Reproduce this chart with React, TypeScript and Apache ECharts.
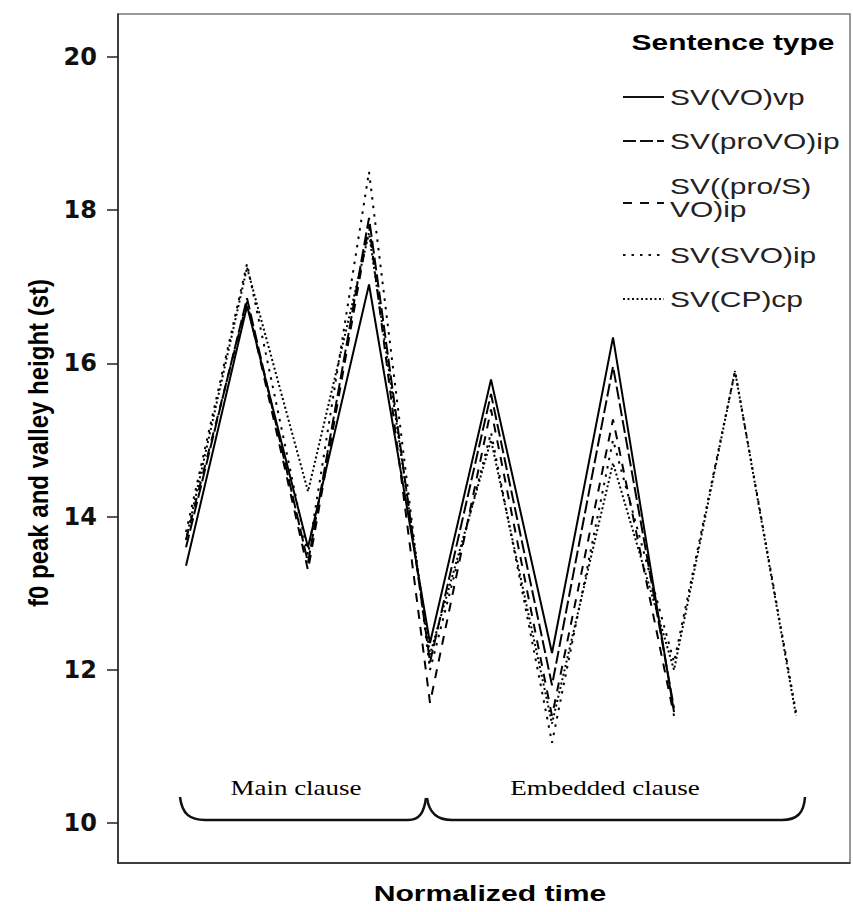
import React, { useEffect, useRef } from "react";
import * as echarts from "echarts";

const timePoints = [0, 1, 2, 3, 4, 5, 6, 7, 8, 9, 10];
const seriesNames = ["SV(VO)vp", "SV(proVO)ip", "SV((pro/S)\nVO)ip", "SV(SVO)ip", "SV(CP)cp"];
const svVOvp = [13.36, 16.75, 13.6, 17.03, 12.35, 15.79, 12.22, 16.34, 11.45];
const svProVOip = [13.6, 16.85, 13.4, 17.9, 12.1, 15.6, 11.8, 15.96, 11.5];
const svProSVOip = [13.7, 16.8, 13.3, 17.8, 11.57, 15.4, 11.4, 15.27, 11.4];
const svSVOip = [13.8, 17.3, 13.5, 18.5, 12.0, 15.1, 11.05, 15.0, 12.1, 15.9, 11.45];
const svCPcp = [13.7, 17.25, 14.33, 17.7, 12.2, 15.0, 11.3, 14.7, 12.0, 15.9, 11.4];
const yTicks = [10, 12, 14, 16, 18, 20];
const clauseLabels = ["Main clause", "Embedded clause"];

const dashes: any[] = ["solid", [13, 4], [9, 8], [2.5, 6], [2, 2.5]];
const SX = 1.36;

export default function App() {
  const ref = useRef<HTMLDivElement>(null);
  useEffect(() => {
    if (!ref.current) return;
    const chart = echarts.init(ref.current, null, { renderer: "svg" });
    const all = [svVOvp, svProVOip, svProSVOip, svSVOip, svCPcp];
    const series = all.map((vals, i) => ({
      name: seriesNames[i],
      type: "line",
      symbol: "none",
      data: vals.map((v, j) => [timePoints[j], v]),
      lineStyle: { color: "#000", width: 2, type: dashes[i] },
      z: 5 - i,
    }));

    const legendRows = [
      { y: 97, ty: 97 },
      { y: 141, ty: 141 },
      { y: 203, ty: 198 },
      { y: 255, ty: 255 },
      { y: 299, ty: 299 },
    ];
    const legendGraphics: any[] = [
      {
        type: "text",
        x: 733,
        y: 42,
        scaleX: SX,
        style: {
          text: "Sentence type",
          font: "bold 22px Arial, 'Liberation Sans'",
          fill: "#000",
          textAlign: "center",
          textVerticalAlign: "middle",
        },
      },
    ];
    legendRows.forEach((r, i) => {
      legendGraphics.push({
        type: "line",
        shape: { x1: 623, y1: r.y, x2: 664, y2: r.y },
        style: { stroke: "#111", lineWidth: 2, lineDash: dashes[i] === "solid" ? null : dashes[i] },
      });
      legendGraphics.push({
        type: "text",
        x: 670,
        y: r.ty,
        scaleX: SX,
        style: {
          text: seriesNames[i],
          font: "22px Arial, 'Liberation Sans'",
          fill: "#222",
          textVerticalAlign: "middle",
          lineHeight: 23,
        },
      });
    });

    const braceStyle = { stroke: "#111", lineWidth: 2.5, fill: null };
    const serifFont = "20px 'Liberation Serif', serif";
    const braces: any[] = [
      { type: "bezierCurve", shape: { x1: 180, y1: 797, cpx1: 182, cpy1: 814, cpx2: 190, cpy2: 820, x2: 205, y2: 820 }, style: braceStyle },
      { type: "line", shape: { x1: 205, y1: 820, x2: 408, y2: 820 }, style: braceStyle },
      { type: "bezierCurve", shape: { x1: 408, y1: 820, cpx1: 420, cpy1: 820, cpx2: 424, cpy2: 812, x2: 426, y2: 798 }, style: braceStyle },
      { type: "bezierCurve", shape: { x1: 427, y1: 798, cpx1: 429, cpy1: 812, cpx2: 436, cpy2: 820, x2: 452, y2: 820 }, style: braceStyle },
      { type: "line", shape: { x1: 452, y1: 820, x2: 782, y2: 820 }, style: braceStyle },
      { type: "bezierCurve", shape: { x1: 782, y1: 820, cpx1: 797, cpy1: 820, cpx2: 804, cpy2: 813, x2: 805, y2: 797 }, style: braceStyle },
      {
        type: "text",
        x: 296,
        y: 788,
        scaleX: 1.35,
        style: { text: clauseLabels[0], font: serifFont, fill: "#000", textAlign: "center", textVerticalAlign: "middle" },
      },
      {
        type: "text",
        x: 605,
        y: 788,
        scaleX: 1.35,
        style: { text: clauseLabels[1], font: serifFont, fill: "#000", textAlign: "center", textVerticalAlign: "middle" },
      },
    ];

    const axisTitles: any[] = [
      {
        type: "text",
        x: 490,
        y: 893,
        scaleX: 1.37,
        style: {
          text: "Normalized time",
          font: "bold 22px Arial, 'Liberation Sans'",
          fill: "#000",
          textAlign: "center",
          textVerticalAlign: "middle",
        },
      },
      {
        type: "text",
        x: 38,
        y: 443,
        rotation: Math.PI / 2,
        scaleY: 1.15,
        style: {
          text: "f0 peak and valley height (st)",
          font: "bold 24px Arial, 'Liberation Sans'",
          fill: "#000",
          textAlign: "center",
          textVerticalAlign: "middle",
        },
      },
    ];

    chart.setOption({
      animation: false,
      backgroundColor: "#fff",
      grid: { left: 118, top: 14, right: 3, bottom: 49, show: true, borderColor: "#777", borderWidth: 1.5 },
      xAxis: {
        type: "value",
        min: -1.115,
        max: 10.885,
        axisLine: { show: true, onZero: false, lineStyle: { color: "#222", width: 1.5 } },
        axisTick: { show: false },
        axisLabel: { show: false },
        splitLine: { show: false },
      },
      yAxis: {
        type: "value",
        min: 9.48,
        max: 20.56,
        axisLine: { show: true, onZero: false, lineStyle: { color: "#222", width: 1.5 } },
        axisTick: { show: true, length: 11, customValues: yTicks, lineStyle: { color: "#222", width: 1.5 } },
        axisLabel: {
          customValues: yTicks,
          margin: 21,
          fontFamily: "'DejaVu Sans', Verdana, sans-serif",
          fontWeight: "bold",
          fontSize: 24,
          color: "#111",
        },
        splitLine: { show: false },
      },
      series,
      graphic: [...legendGraphics, ...braces, ...axisTitles],
    });
    return () => chart.dispose();
  }, []);
  return <div ref={ref} style={{ width: 853, height: 912, position: "absolute", left: 0, top: 0 }} />;
}
